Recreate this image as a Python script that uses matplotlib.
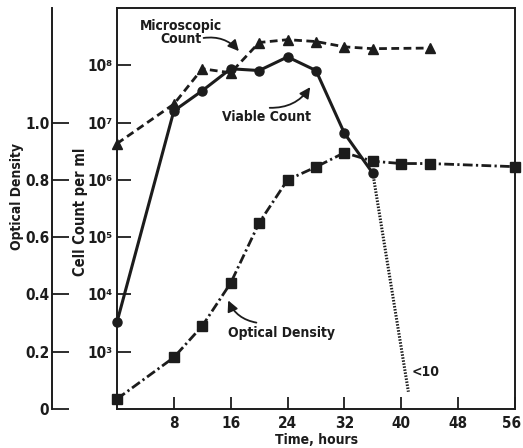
import matplotlib
matplotlib.use("Agg")
import matplotlib.pyplot as plt
import matplotlib.transforms as mtransforms

# data
micro_hours = [0, 8, 12, 16, 20, 24, 28, 32, 36, 44]
micro_count = [4.3e6, 2.1e7, 8.7e7, 7.4e7, 2.5e8, 2.8e8, 2.6e8, 2.1e8, 1.95e8, 2.0e8]

viable_hours = [0, 8, 12, 16, 20, 24, 28, 32, 36]
viable_count = [3.3e3, 1.6e7, 3.6e7, 8.7e7, 8.1e7, 1.4e8, 8.1e7, 6.5e6, 1.3e6]

# drop to "<10" after 36 h, drawn dotted
drop_hours = [36, 41]
drop_count = [1.3e6, 2.0e2]

od_hours = [0, 8, 12, 16, 20, 24, 28, 32, 36, 40, 44, 56]
od_values = [0.035, 0.18, 0.29, 0.44, 0.65, 0.80, 0.845, 0.895, 0.865, 0.857, 0.857, 0.846]

x_ticks = [8, 16, 24, 32, 40, 48, 56]
count_ticks = [1e3, 1e4, 1e5, 1e6, 1e7, 1e8]
count_labels = ["10³", "10⁴", "10⁵", "10⁶", "10⁷", "10⁸"]
od_ticks = [0, 0.2, 0.4, 0.6, 0.8, 1.0]
od_labels = ["0", "0.2", "0.4", "0.6", "0.8", "1.0"]

INK = "#1c1c1c"
plt.rcParams["font.family"] = ["DejaVu Sans"]
plt.rcParams["font.stretch"] = "condensed"
plt.rcParams["font.weight"] = "bold"

fig = plt.figure(figsize=(5.23, 4.48), dpi=100)
ax = fig.add_axes([0.2237, 0.0871, 0.761, 0.895])

ax.set_yscale("log")
ax.set_xlim(0, 56)
ax.set_ylim(1e2, 1e9)
ax.set_xticks(x_ticks)
ax.set_xticklabels([str(t) for t in x_ticks])
ax.set_yticks(count_ticks)
ax.set_yticklabels(count_labels)
ax.minorticks_off()
ax.tick_params(axis="y", direction="in", length=10, width=1.3, pad=3,
               labelsize=11, colors=INK)
ax.tick_params(axis="x", direction="in", length=9, width=1.3, pad=5,
               labelsize=11, colors=INK)
for s in ax.spines.values():
    s.set_linewidth(1.4)
    s.set_color(INK)

# nudge the last x label a little left so it stays inside the image
last = ax.get_xticklabels()[-1]
last.set_transform(last.get_transform() +
                   mtransforms.ScaledTranslation(-3 / 100, 0, fig.dpi_scale_trans))

# microscopic count (dashed, triangles)
ax.plot(micro_hours, micro_count, color=INK, lw=2.0, ls=(0, (2.8, 1.6)),
        marker="^", ms=6.5, zorder=3, clip_on=False)
# viable count (solid, circles)
ax.plot(viable_hours, viable_count, color=INK, lw=2.2, marker="o", ms=6.5,
        zorder=4, clip_on=False)
ax.plot(drop_hours, drop_count, color=INK, lw=2.2, ls=(0, (0.5, 0.5)), zorder=4)

# optical density on the outer axis
od = ax.twinx()
od.set_ylim(0, 1.4)
od.spines["left"].set_position(("axes", -0.163))
od.yaxis.set_ticks_position("left")
od.yaxis.set_label_position("left")
for name in ["right", "top", "bottom"]:
    od.spines[name].set_visible(False)
od.spines["left"].set_linewidth(1.4)
od.spines["left"].set_color(INK)
od.set_yticks(od_ticks)
od.set_yticklabels(od_labels)
od.tick_params(axis="y", direction="in", length=12, width=1.3, pad=2,
               labelsize=11, colors=INK)
od.plot(od_hours, od_values, color=INK, lw=2.0, ls=(0, (3.5, 1.2, 0.8, 1.2)),
        marker="s", ms=6.5, zorder=3, clip_on=False)

# labels
fig.text(17 / 523, 1 - 197 / 448, "Optical Density", rotation=90,
         ha="center", va="center", fontsize=10, color=INK)
fig.text(81 / 523, 1 - 212 / 448, "Cell Count per ml", rotation=90,
         ha="center", va="center", fontsize=10.5, color=INK)
fig.text(317 / 523, 1 - 440 / 448, "Time, hours",
         ha="center", va="center", fontsize=10, color=INK)

# annotations
arrow = dict(arrowstyle="-|>", color=INK, lw=1.3, mutation_scale=16)
ax.text(9.0, 10 ** 8.57, "Microscopic\nCount", ha="center", va="center",
        fontsize=10, color=INK, linespacing=0.95)
ax.annotate("", xy=(17.4, 10 ** 8.21), xytext=(11.8, 10 ** 8.47),
            arrowprops=dict(arrow, connectionstyle="arc3,rad=-0.3"))
ax.text(21.0, 10 ** 7.09, "Viable Count", ha="center", va="center",
        fontsize=10, color=INK)
ax.annotate("", xy=(27.4, 10 ** 7.66), xytext=(21.1, 10 ** 7.26),
            arrowprops=dict(arrow, connectionstyle="arc3,rad=0.3"))
ax.text(23.1, 10 ** 3.33, "Optical Density", ha="center", va="center",
        fontsize=10, color=INK)
ax.annotate("", xy=(15.5, 10 ** 3.94), xytext=(20.0, 10 ** 3.50),
            arrowprops=dict(arrow, connectionstyle="arc3,rad=-0.3"))
ax.text(41.4, 10 ** 2.65, "<10", ha="left", va="center", fontsize=10, color=INK)

fig.savefig("out.png", dpi=100, facecolor="white")
